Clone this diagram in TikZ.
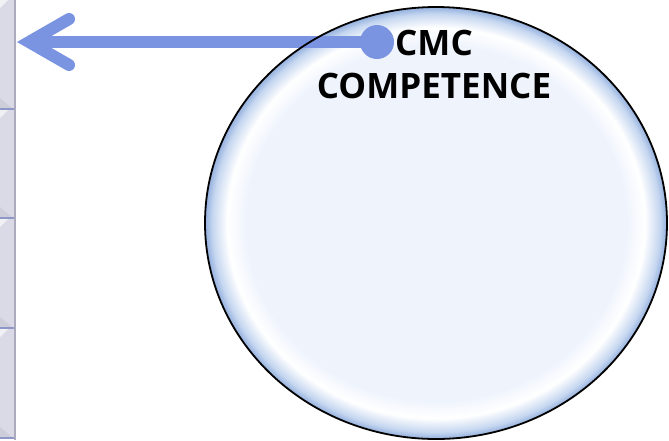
\documentclass[tikz,border=0pt]{standalone}
\usepackage{fontspec}
\setmainfont{Open Sans}
\usetikzlibrary{arrows.meta}
\definecolor{arrowblue}{HTML}{7A94E2}
\definecolor{tabfill}{HTML}{DADAE6}
\definecolor{tabedge}{HTML}{ABABBD}
\definecolor{tabsep}{HTML}{8E98C8}
\definecolor{bubblein}{HTML}{EEF3FC}
\definecolor{bubblerim}{HTML}{C6D7F0}
\definecolor{bubbledeep}{HTML}{94B0DE}
% the path's box maps onto the inner 50bp square, so the rim sits at 25bp
\pgfdeclareradialshading{bubble}{\pgfpoint{0bp}{0bp}}{%
  color(0bp)=(bubblein); color(20.5bp)=(bubblein); color(22.6bp)=(white);
  color(24.2bp)=(bubblerim); color(25bp)=(bubbledeep); color(50bp)=(bubbledeep)}
\tikzset{
  tab/.style={fill=tabfill, draw=none},
  arrowline/.style={draw=arrowblue, line width=12pt,
    -{Straight Barb[length=40pt,width=46pt,line cap=round,line join=miter]}},
  label/.style={font=\bfseries\fontsize{35}{43}\selectfont, align=center, inner sep=0pt},
}
\begin{document}
\begin{tikzpicture}[x=1pt,y=-1pt]
\useasboundingbox (0,0) rectangle (669,440);
% side tabs
\foreach \t/\b in {0/108,110/217,219/327,329/437}{
  \fill[tabfill] (0,\t) rectangle (15,\b);
  \fill[white,opacity=0.6] (0,\t) -- (8,\t) -- (0,\t+8) -- cycle;
  \fill[black,opacity=0.05] (0,\b) -- (0,\b-10) -- (12,\b) -- cycle;
  \draw[tabsep, line width=2pt] (0,\b+1) -- (16,\b+1);
}
\draw[tabedge, line width=2pt] (15,0) -- (15,440);
% bubble
\shade[shading=bubble] (436,223) ellipse [x radius=231, y radius=216];
\node[label] (title) at (434,64) {CMC\\COMPETENCE};
% pointer
\node[circle, fill=arrowblue, minimum size=34pt, inner sep=0pt] (dot) at (377,42) {};
\coordinate (tip) at (17,42);
\draw[arrowline] (dot.center) -- (tip);
% bubble outline, laid over the pointer line
\draw[black, line width=1.8pt] (436,223) ellipse [x radius=231, y radius=216];
\end{tikzpicture}
\end{document}
